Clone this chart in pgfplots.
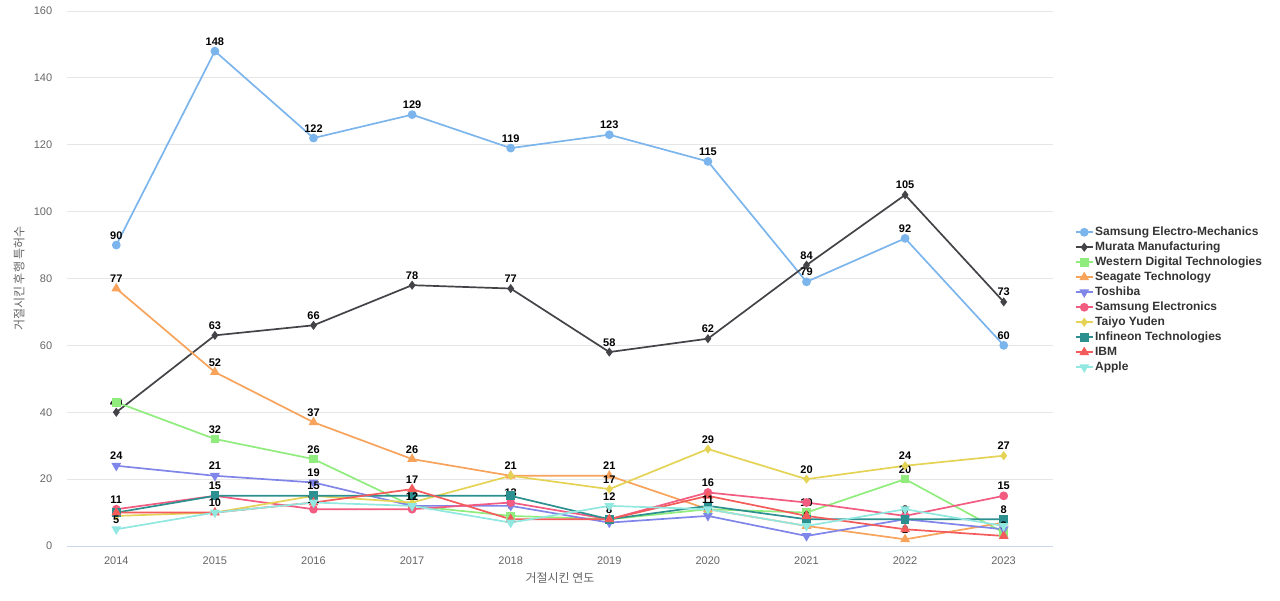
\documentclass[border=0pt]{standalone}
\usepackage{fontspec}
\setmainfont{Liberation Sans}
\newfontfamily\kr{Noto Sans CJK KR}
\usepackage{pgfplots}
\pgfplotsset{compat=1.18}

\definecolor{sem}{HTML}{7CB5EC}
\definecolor{mur}{HTML}{434348}
\definecolor{wdc}{HTML}{90ED7D}
\definecolor{sea}{HTML}{F7A35C}
\definecolor{tos}{HTML}{8085E9}
\definecolor{sel}{HTML}{F15C80}
\definecolor{tai}{HTML}{E4D354}
\definecolor{inf}{HTML}{2B908F}
\definecolor{ibm}{HTML}{F45B5B}
\definecolor{app}{HTML}{91E8E1}
\definecolor{gridc}{HTML}{E6E6E6}
\definecolor{axisc}{HTML}{CCD6EB}
\definecolor{tickc}{HTML}{666666}
\definecolor{legc}{HTML}{333333}

\begin{document}
\begin{tikzpicture}[x=1pt,y=1pt]
\useasboundingbox (0,0) rectangle (1280,600);
\begin{axis}[
  at={(67pt,54pt)}, anchor=south west,
  width=986pt, height=535pt, scale only axis,
  xmin=2013.5, xmax=2023.5, ymin=0, ymax=160,
  xtick={2014,...,2023}, ytick={0,20,...,160},
  /pgf/number format/1000 sep={},
  /pgf/number format/assume math mode=true,
  axis line style={draw=none},
  major tick length=0pt,
  ymajorgrids, major grid style={color=gridc, line width=0.8pt},
  ticklabel style={font=\fontsize{11}{13}\selectfont, text=tickc},
  yticklabel style={anchor=east, inner sep=0pt, xshift=-14pt},
  xticklabel style={anchor=north, inner sep=0pt, yshift=-10pt},
  xlabel={\kr 거절시킨 연도},
  ylabel={\kr 거절시킨 후행 특허수},
  label style={font=\fontsize{12}{14}\selectfont, text=tickc},
  xlabel style={at={(axis description cs:0.5,0)}, anchor=center, yshift=-32pt},
  ylabel style={at={(axis description cs:0,0.5)}, anchor=center, yshift=48pt},
  clip=false,
  line width=1.7pt,
  point meta=explicit symbolic,
  nodes near coords,
  every node near coord/.style={font=\bfseries\fontsize{11}{13}\selectfont,
    anchor=south, inner sep=0pt, yshift=5pt, text=black},
  legend cell align=left,
  legend style={at={(1.0213,0.602)}, anchor=north west, draw=none, fill=none,
    font=\bfseries\fontsize{12}{14}\selectfont, text=legc, inner sep=0pt,
    row sep=0pt,
    nodes={text height=9pt, text depth=3pt, inner sep=1.5pt}},
]
\addplot[color=sem, mark=*, mark size=3.5pt] coordinates {
 (2014,90)[90] (2015,148)[148] (2016,122)[122] (2017,129)[129] (2018,119)[119]
 (2019,123)[123] (2020,115)[115] (2021,79)[79] (2022,92)[92] (2023,60)[60]};
\addlegendentry{Samsung Electro-Mechanics}
\addplot[color=mur, mark=diamond*, mark size=3.2pt] coordinates {
 (2014,40)[40] (2015,63)[63] (2016,66)[66] (2017,78)[78] (2018,77)[77]
 (2019,58)[58] (2020,62)[62] (2021,84)[84] (2022,105)[105] (2023,73)[73]};
\addlegendentry{Murata Manufacturing}
\addplot[color=wdc, mark=square*, mark size=3.5pt] coordinates {
 (2014,43)[] (2015,32)[32] (2016,26)[26] (2017,12)[] (2018,9)[9]
 (2019,8)[] (2020,11)[] (2021,10)[10] (2022,20)[20] (2023,4)[]};
\addlegendentry{Western Digital Technologies}
\addplot[color=sea, mark=triangle*, mark size=4pt] coordinates {
 (2014,77)[77] (2015,52)[52] (2016,37)[37] (2017,26)[26] (2018,21)[21]
 (2019,21)[21] (2020,11)[] (2021,6)[6] (2022,2)[2] (2023,7)[]};
\addlegendentry{Seagate Technology}
\addplot[color=tos, mark=triangle*, mark options={rotate=180}, mark size=4pt] coordinates {
 (2014,24)[24] (2015,21)[21] (2016,19)[19] (2017,12)[] (2018,12)[]
 (2019,7)[] (2020,9)[] (2021,3)[] (2022,8)[] (2023,5)[]};
\addlegendentry{Toshiba}
\addplot[color=sel, mark=*, mark size=3.5pt] coordinates {
 (2014,11)[11] (2015,15)[] (2016,11)[11] (2017,11)[] (2018,13)[13]
 (2019,8)[] (2020,16)[16] (2021,13)[] (2022,9)[] (2023,15)[15]};
\addlegendentry{Samsung Electronics}
\addplot[color=tai, mark=diamond*, mark size=3.2pt] coordinates {
 (2014,9)[] (2015,10)[] (2016,15)[] (2017,13)[] (2018,21)[]
 (2019,17)[17] (2020,29)[29] (2021,20)[20] (2022,24)[24] (2023,27)[27]};
\addlegendentry{Taiyo Yuden}
\addplot[color=inf, mark=square*, mark size=3.5pt] coordinates {
 (2014,10)[] (2015,15)[15] (2016,15)[15] (2017,15)[] (2018,15)[]
 (2019,8)[8] (2020,12)[] (2021,8)[] (2022,8)[8] (2023,8)[8]};
\addlegendentry{Infineon Technologies}
\addplot[color=ibm, mark=triangle*, mark size=4pt] coordinates {
 (2014,10)[] (2015,10)[10] (2016,13)[] (2017,17)[17] (2018,8)[]
 (2019,8)[] (2020,15)[] (2021,9)[] (2022,5)[] (2023,3)[3]};
\addlegendentry{IBM}
\addplot[color=app, mark=triangle*, mark options={rotate=180}, mark size=4pt] coordinates {
 (2014,5)[5] (2015,10)[] (2016,13)[] (2017,12)[12] (2018,7)[]
 (2019,12)[12] (2020,11)[11] (2021,6)[] (2022,11)[] (2023,6)[]};
\addlegendentry{Apple}
\draw[color=axisc, line width=0.8pt] (axis cs:2013.5,0) -- (axis cs:2023.5,0);
\end{axis}
\end{tikzpicture}
\end{document}
